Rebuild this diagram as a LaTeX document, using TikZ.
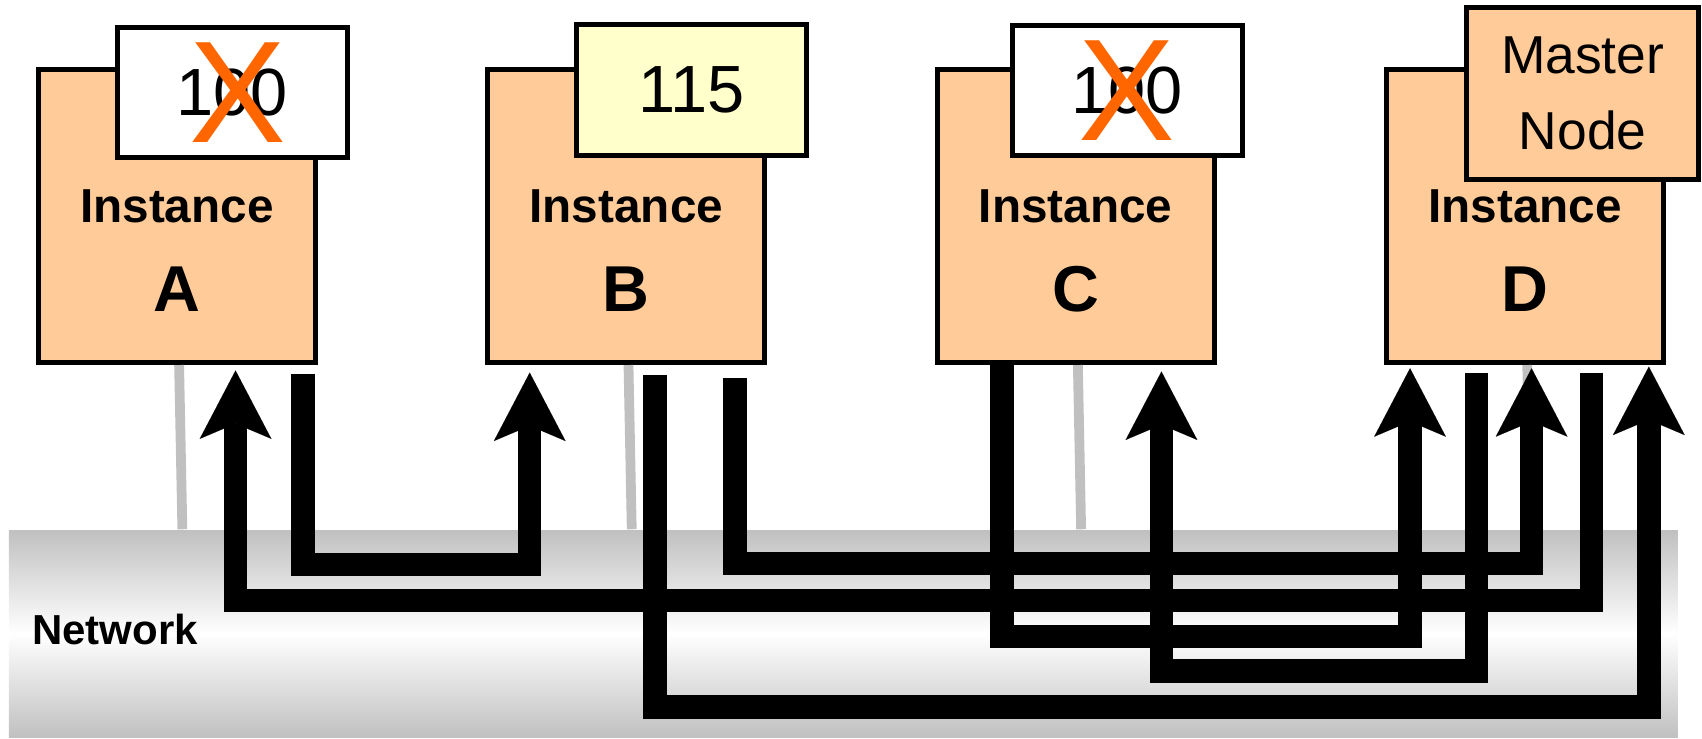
\documentclass[tikz,border=0pt]{standalone}
\usepackage{fontspec}
\setmainfont{Liberation Sans}
\usepackage{tikz}
\usetikzlibrary{arrows.meta}
\definecolor{peach}{HTML}{FFCC99}
\definecolor{paleyellow}{HTML}{FFFFCC}
\definecolor{crossorange}{HTML}{FF6600}
\definecolor{wiregray}{HTML}{C0C0C0}

\begin{document}
\begin{tikzpicture}[
  inst/.style={draw, rectangle, line width=1.3pt, fill=peach, minimum width=2.55cm, minimum height=2.70cm, inner sep=0pt},
  tag/.style={draw, rectangle, line width=1.3pt, minimum width=2.12cm, minimum height=1.20cm, inner sep=0pt, font=\fontsize{17.5}{21}\selectfont},
  instname/.style={anchor=base, inner sep=0pt, font=\fontsize{12.5}{15}\selectfont\bfseries},
  instid/.style={anchor=base, inner sep=0pt, font=\fontsize{17}{20}\selectfont\bfseries},
  cross/.style={text=crossorange, inner sep=0pt, font=\fontsize{38}{40}\selectfont},
  drop/.style={draw=wiregray, line width=0.09cm},
  link/.style={draw, line width=0.215cm, -{Stealth[length=0.63cm, width=0.66cm, inset=0.14cm, line width=0.01pt]}}
]
\useasboundingbox (0,0) rectangle (15.68,6.80);

\node[minimum width=15.375cm, minimum height=1.91cm, inner sep=0pt, anchor=south west, top color=wiregray, bottom color=wiregray, middle color=white] (net) at (0.075,0) {};
\node[anchor=base west, inner sep=0pt, font=\fontsize{11}{13}\selectfont\bfseries] (net-lbl) at (0.29,0.86) {Network};

\node[inst] (A) at (1.63,4.81) {};
\node[inst, right of=A, node distance=4.14cm] (B) {};
\node[inst, right of=B, node distance=4.14cm] (C) {};
\node[inst, right of=C, node distance=4.14cm] (D) {};

\foreach \n in {A,B,C,D} {
  \draw [drop] ([xshift=0.02cm]\n.south) -- ([xshift=0.05cm]\n.south |- net.north);
  \node[instname] (\n-name) at ([yshift=-0.06cm]\n.center) {Instance};
  \node[instid] (\n-id) at ([yshift=-0.88cm]\n.center) {\n};
}

\node[tag, fill=white] (A-tag) at ([xshift=0.51cm, yshift=1.14cm]A.center) {100};
\node[cross] (A-x) at ([xshift=0.05cm]A-tag.center) {X};
\node[tag, fill=paleyellow] (B-tag) at ([xshift=0.60cm, yshift=1.16cm]B.center) {115};
\node[tag, fill=white] (C-tag) at ([xshift=0.475cm, yshift=1.155cm]C.center) {100};
\node[cross] (C-x) at (C-tag.center) {X};
\node[tag, fill=peach, minimum width=2.14cm, minimum height=1.58cm, align=center, font=\fontsize{14}{20}\selectfont] (D-tag) at ([xshift=0.53cm, yshift=1.13cm]D.center) {Master\\Node};

\draw [link] ([xshift=1.16cm, yshift=-0.08cm]A.south) -- ++(0,-1.76) -| ([xshift=-0.89cm, yshift=-0.07cm]B.south);
\draw [link] ([xshift=0.61cm, yshift=-0.07cm]D.south) -- ++(0,-2.10) -| ([xshift=0.54cm, yshift=-0.05cm]A.south);
\draw [link] ([xshift=0.265cm, yshift=-0.09cm]B.south) -- ++(0,-3.06) -| ([xshift=1.14cm, yshift=-0.015cm]D.south);
\draw [link] ([xshift=1.00cm, yshift=-0.12cm]B.south) -- ++(0,-1.71) -| ([xshift=0.06cm, yshift=-0.03cm]D.south);
\draw [link] ([xshift=-0.68cm]C.south) -- ++(0,-2.50) -| ([xshift=-1.06cm, yshift=-0.03cm]D.south);
\draw [link] ([xshift=-0.45cm, yshift=-0.07cm]D.south) -- ++(0,-2.75) -| ([xshift=0.79cm, yshift=-0.06cm]C.south);
\end{tikzpicture}
\end{document}
